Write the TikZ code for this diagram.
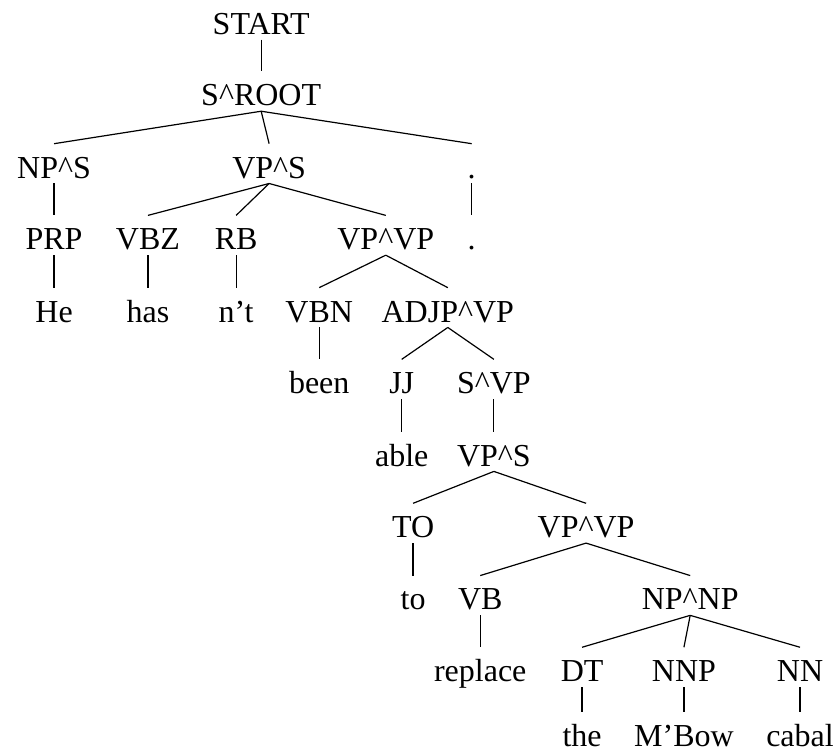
\documentclass[tikz,border=0pt]{standalone}
\usepackage{fontspec}
\setmainfont{Liberation Serif}
\usepackage{tikz}
\newcommand{\caret}{\textasciicircum}

\begin{document}
\begin{tikzpicture}[every node/.style={font=\fontsize{16}{19}\selectfont},
    lbl/.style={anchor=base, inner sep=0pt, text height=17pt, text depth=2.5pt},
    leaf/.style={lbl, text depth=0pt},
    branch/.style={line width=0.6pt, color=black}]
    \useasboundingbox (0,0) rectangle (14.71,-13.285);
    % levels 0--3
    \node[lbl] (start) at (4.59, -0.60) {START};
    \node[lbl] (sroot) at (4.59, -1.86) {S\caret ROOT};
    \node[lbl] (nps) at (0.95, -3.13) {NP\caret S};
    \node[lbl] (vps) at (4.73, -3.13) {VP\caret S};
    \node[lbl] (punct) at (8.29, -3.13) {.};
    \node[lbl] (prp) at (0.95, -4.39) {PRP};
    \node[lbl] (vbz) at (2.60, -4.39) {VBZ};
    \node[lbl] (rb) at (4.15, -4.39) {RB};
    \node[lbl] (vpvp) at (6.78, -4.39) {VP\caret VP};
    \node[lbl] (dot) at (8.29, -4.39) {.};
    % levels 4--6
    \node[lbl] (he) at (0.95, -5.66) {He};
    \node[lbl] (has) at (2.60, -5.66) {has};
    \node[lbl] (nt) at (4.15, -5.66) {n't};
    \node[lbl] (vbn) at (5.61, -5.66) {VBN};
    \node[lbl] (adjp) at (7.87, -5.66) {ADJP\caret VP};
    \node[lbl] (been) at (5.61, -6.92) {been};
    \node[lbl] (jj) at (7.06, -6.92) {JJ};
    \node[lbl] (svp) at (8.68, -6.92) {S\caret VP};
    \node[lbl] (able) at (7.06, -8.19) {able};
    \node[lbl] (vps2) at (8.68, -8.19) {VP\caret S};
    % levels 7--10
    \node[lbl] (to) at (7.26, -9.45) {TO};
    \node[lbl] (vpvp2) at (10.30, -9.45) {VP\caret VP};
    \node[lbl] (toword) at (7.26, -10.72) {to};
    \node[lbl] (vb) at (8.44, -10.72) {VB};
    \node[lbl] (npnp) at (12.13, -10.72) {NP\caret NP};
    \node[lbl] (replace) at (8.44, -11.98) {replace};
    \node[lbl] (dt) at (10.23, -11.98) {DT};
    \node[lbl] (nnp) at (12.02, -11.98) {NNP};
    \node[lbl] (nn) at (14.06, -11.98) {NN};
    \node[leaf] (the) at (10.23, -13.12) {the};
    \node[leaf] (mbow) at (12.02, -13.12) {M'Bow};
    \node[leaf] (cabal) at (14.06, -13.12) {cabal};
    % branches
    \draw[branch] (start.south) -- (sroot.north);
    \draw[branch] (sroot.south) -- (nps.north);
    \draw[branch] (sroot.south) -- (vps.north);
    \draw[branch] (sroot.south) -- (punct.north);
    \draw[branch] (nps.south) -- (prp.north);
    \draw[branch] (vps.south) -- (vbz.north);
    \draw[branch] (vps.south) -- (rb.north);
    \draw[branch] (vps.south) -- (vpvp.north);
    \draw[branch] (punct.south) -- (dot.north);
    \draw[branch] (prp.south) -- (he.north);
    \draw[branch] (vbz.south) -- (has.north);
    \draw[branch] (rb.south) -- (nt.north);
    \draw[branch] (vpvp.south) -- (vbn.north);
    \draw[branch] (vpvp.south) -- (adjp.north);
    \draw[branch] (vbn.south) -- (been.north);
    \draw[branch] (adjp.south) -- (jj.north);
    \draw[branch] (adjp.south) -- (svp.north);
    \draw[branch] (jj.south) -- (able.north);
    \draw[branch] (svp.south) -- (vps2.north);
    \draw[branch] (vps2.south) -- (to.north);
    \draw[branch] (vps2.south) -- (vpvp2.north);
    \draw[branch] (to.south) -- (toword.north);
    \draw[branch] (vpvp2.south) -- (vb.north);
    \draw[branch] (vpvp2.south) -- (npnp.north);
    \draw[branch] (vb.south) -- (replace.north);
    \draw[branch] (npnp.south) -- (dt.north);
    \draw[branch] (npnp.south) -- (nnp.north);
    \draw[branch] (npnp.south) -- (nn.north);
    \draw[branch] (dt.south) -- (the.north);
    \draw[branch] (nnp.south) -- (mbow.north);
    \draw[branch] (nn.south) -- (cabal.north);
\end{tikzpicture}
\end{document}
